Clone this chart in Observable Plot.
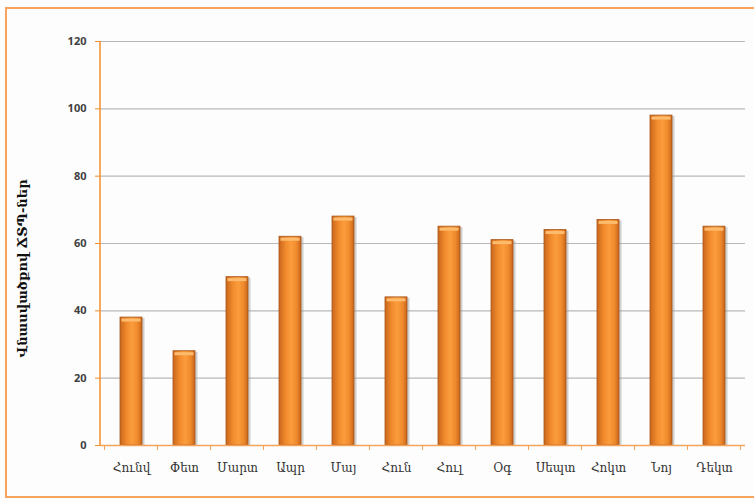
<!DOCTYPE html>
<html>
<head>
<meta charset="utf-8">
<script src="https://cdn.jsdelivr.net/npm/d3@7"></script>
<script src="https://cdn.jsdelivr.net/npm/@observablehq/plot@0.6"></script>
<style>
  html, body { margin: 0; padding: 0; background: #ffffff; }
  #wrap { position: relative; width: 754px; height: 502px; overflow: hidden; background: #fdfdfd; }
  #wrap .box { position: absolute; left: 5px; top: 7px; width: 760px; height: 491px;
               border: 2px solid #f7a35c; box-sizing: border-box; pointer-events: none; }
  #wrap svg { position: absolute; left: 0; top: 0; }
</style>
</head>
<body>
<div id="wrap"><div class="box"></div></div>
<script>
// Monthly count of injury road accidents
const months = ["Հունվ", "Փետ", "Մարտ", "Ապր", "Մայ", "Հուն", "Հուլ", "Օգ", "Սեպտ", "Հոկտ", "Նոյ", "Դեկտ"];
const accidents = [38, 28, 50, 62, 68, 44, 65, 61, 64, 67, 98, 65];
const yTicks = [0, 20, 40, 60, 80, 100, 120];
const yTitle = "Վնասվածքով ՃՏՊ-ներ";

const rows = months.map((m, i) => ({month: m, value: accidents[i]}));

const chart = Plot.plot({
  width: 754,
  height: 502,
  marginLeft: 100,
  marginRight: 9,
  marginTop: 41,
  marginBottom: 57,
  style: {background: "transparent", overflow: "visible"},
  x: {domain: months, paddingInner: 0.59, paddingOuter: 0.295},
  y: {domain: [0, 120]},
  marks: [
    // horizontal gridlines
    Plot.ruleY(yTicks.filter(d => d > 0), {stroke: "#b8b8b8", strokeWidth: 1.2}),
    // soft drop shadow behind each bar
    Plot.barY(rows, {x: "month", y: "value", fill: "#9a9a9a", fillOpacity: 0.45, dx: 2.5, dy: 1}),
    // bars with a cylinder-like horizontal gradient
    Plot.barY(rows, {x: "month", y: "value", fill: "url(#barFill)", stroke: "#a8561a", strokeWidth: 0.8}),
    // light cap at the top of each bar
    Plot.tickY(rows, {x: "month", y: "value", stroke: "#fdbb6e", strokeWidth: 3, dy: 2.5, inset: 1.5}),
    // y axis
    Plot.axisY({
      ticks: yTicks, tickSize: 5, tickPadding: 9, stroke: "#f28e2b",
      fontSize: 11, fontWeight: "bold", fill: "#404040",
      label: null
    }),
    // x axis line and labels
    Plot.ruleY([0], {stroke: "#f5a25a", strokeWidth: 1.5}),
    Plot.axisX({tickSize: 0, tickPadding: 18, fontSize: 12, fill: "#333333", label: null,
                fontFamily: "'DejaVu Serif', 'DejaVu Sans', serif"}),
    // y axis title
    Plot.text([yTitle], {frameAnchor: "left", rotate: -90, dx: -78, dy: 25, textAnchor: "middle",
                         fontSize: 13, fontWeight: "bold", fill: "#111111",
                         fontFamily: "'DejaVu Serif', 'DejaVu Sans', serif"})
  ]
});

const svg = d3.select(chart);
// gradient used by the bar fill
const defs = svg.insert("defs", ":first-child");
const grad = defs.append("linearGradient").attr("id", "barFill")
  .attr("x1", "0").attr("x2", "1").attr("y1", "0").attr("y2", "0");
[["0%", "#c9661c"], ["30%", "#f08a2c"], ["55%", "#fb9d3c"], ["80%", "#ef8a2c"], ["100%", "#c7641b"]]
  .forEach(([o, c]) => grad.append("stop").attr("offset", o).attr("stop-color", c));

const x = chart.scale("x");
const y = chart.scale("y");

// vertical y axis line along the left edge of the plot area
svg.append("line")
  .attr("x1", x.range[0]).attr("x2", x.range[0])
  .attr("y1", y.apply(120)).attr("y2", y.apply(0))
  .attr("stroke", "#f28e2b").attr("stroke-width", 1.5);

// small tick marks between categories on the x axis
const gap = (x.step - x.bandwidth) / 2;
const bounds = months.map(m => x.apply(m) - gap)
  .concat([x.apply(months[months.length - 1]) + x.bandwidth + gap]);
svg.append("g").selectAll("line").data(bounds).join("line")
  .attr("x1", d => d).attr("x2", d => d)
  .attr("y1", y.apply(0)).attr("y2", y.apply(0) + 5)
  .attr("stroke", "#f5a25a").attr("stroke-width", 1);

document.getElementById("wrap").appendChild(chart);
</script>
</body>
</html>
